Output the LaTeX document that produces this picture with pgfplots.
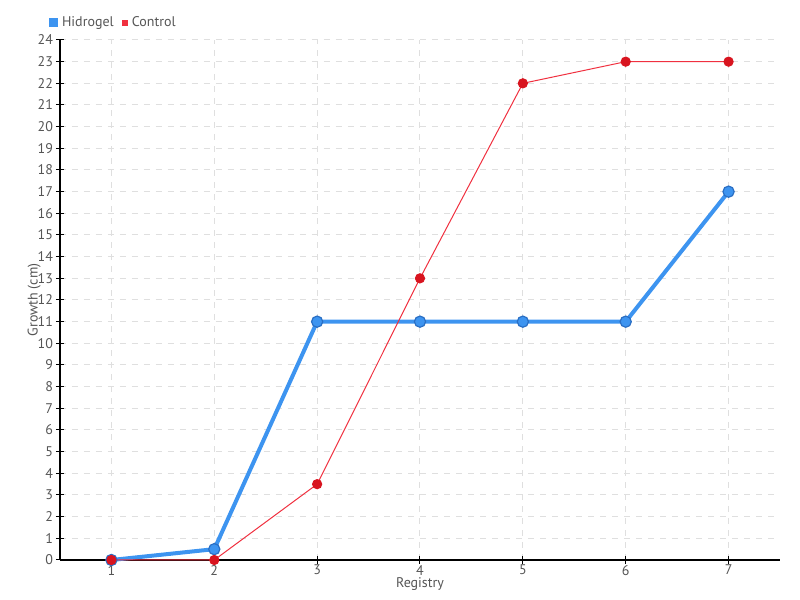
\documentclass[border=0pt]{standalone}
\usepackage{pgfplots}
\pgfplotsset{compat=1.18}
\usepackage{fontspec}
\setmainfont{PT Sans}
\definecolor{txt}{HTML}{555555}
\definecolor{hblue}{HTML}{3D94F0}
\definecolor{hblued}{HTML}{2A6FC4}
\definecolor{cred}{HTML}{F0303F}
\definecolor{credd}{HTML}{D8141F}
\begin{document}
\begin{tikzpicture}
\useasboundingbox (0,0) rectangle (400pt,300pt);
\begin{axis}[
    at={(30pt,20pt)}, anchor=south west,
    scale only axis,
    width=360pt, height=260pt,
    xmin=0.5, xmax=7.5,
    ymin=0, ymax=24,
    xtick={1,...,7},
    ytick={0,...,24},
    axis x line=bottom, axis y line=left,
    axis line style={black, line width=0.6pt, -},
    tick style={black, line width=0.5pt},
    major tick length=4pt,
    tick align=center,
    grid=major,
    grid style={dashed, gray!25, line width=0.5pt},
    font=\fontsize{7}{8}\selectfont\color{txt},
    tick label style={font=\fontsize{7}{8}\selectfont\color{txt}},
    /pgf/number format/assume math mode=true,
    xticklabel style={yshift=3pt},
    yticklabel style={xshift=2pt},
    xlabel={Registry}, ylabel={Growth (cm)},
    xlabel style={at={(axis description cs:0.5,-0.046)}, anchor=center},
    ylabel style={at={(axis description cs:-0.036,0.5)}, anchor=center},
    legend columns=2,
    legend style={at={(-0.016,1.033)}, anchor=west, draw=none, fill=none,
        font=\fontsize{7}{8}\selectfont\color{txt},
        /tikz/every even column/.append style={column sep=2pt},
        inner sep=0pt},
    legend cell align=left,
    legend image code/.code={\fill[#1] (0pt,-1.3pt) rectangle (2.6pt,1.3pt);},
    clip=false,
]
\addplot[hblue, line width=2pt, mark=*, mark size=2.8pt,
    mark options={fill=hblue, draw=hblued, line width=0.6pt}]
    coordinates {(1,0) (2,0.5) (3,11) (4,11) (5,11) (6,11) (7,17)};
\addplot[cred, line width=0.5pt, mark=*, mark size=2.3pt,
    mark options={fill=credd, draw=credd}]
    coordinates {(1,0) (2,0) (3,3.5) (4,13) (5,22) (6,23) (7,23)};
\legend{Hidrogel,Control}
\end{axis}
\end{tikzpicture}
\end{document}
